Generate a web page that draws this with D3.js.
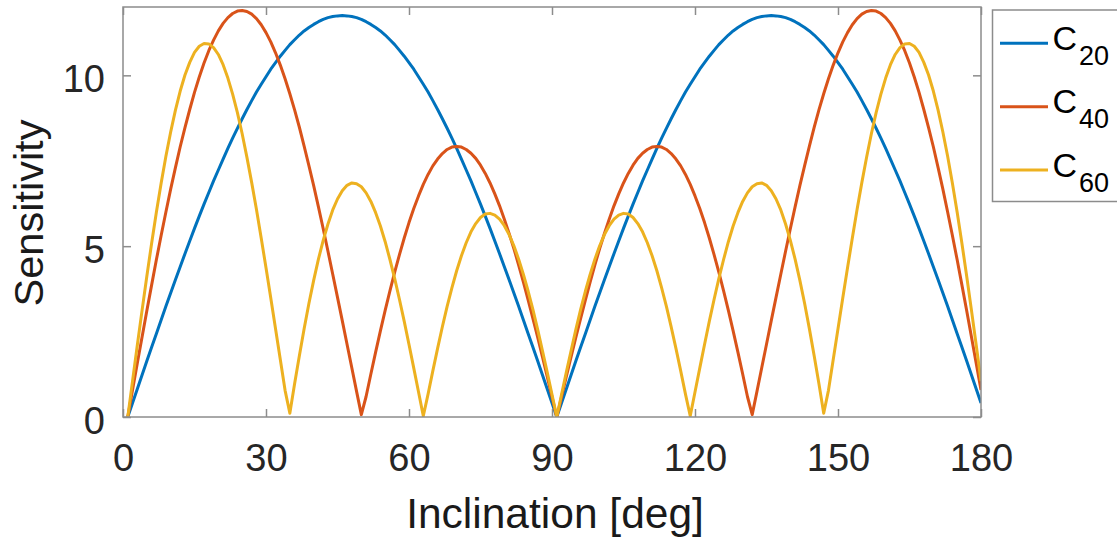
<!DOCTYPE html>
<html>
<head>
<meta charset="utf-8">
<script src="https://cdn.jsdelivr.net/npm/d3@7"></script>
<style>
  html, body { margin: 0; padding: 0; background: #fff; }
  svg { display: block; font-family: "Liberation Sans", Arial, Helvetica, sans-serif; }
</style>
</head>
<body>
<svg id="chart" width="1117" height="539"></svg>
<script>
// ---------------- data ----------------
const inclination = [
  1,2,3,4,5,6,7,8,9,10,11,12,13,14,15,16,17,18,19,20,
  21,22,23,24,25,26,27,28,29,30,31,32,33,34,35,36,37,38,39,40,
  41,42,43,44,45,46,47,48,49,50,51,52,53,54,55,56,57,58,59,60,
  61,62,63,64,65,66,67,68,69,70,71,72,73,74,75,76,77,78,79,80,
  81,82,83,84,85,86,87,88,89,90,91,92,93,94,95,96,97,98,99,100,
  101,102,103,104,105,106,107,108,109,110,111,112,113,114,115,116,117,118,119,120,
  121,122,123,124,125,126,127,128,129,130,131,132,133,134,135,136,137,138,139,140,
  141,142,143,144,145,146,147,148,149,150,151,152,153,154,155,156,157,158,159,160,
  161,162,163,164,165,166,167,168,169,170,171,172,173,174,175,176,177,178,179,180
];

const C20 = [
  0,0.41,0.82,1.23,1.64,2.04,2.44,2.84,3.24,3.63,4.02,4.40,4.78,5.15,5.52,5.88,6.23,6.57,6.91,7.23,
  7.55,7.86,8.16,8.45,8.73,9.00,9.26,9.51,9.74,9.96,10.18,10.37,10.56,10.73,10.90,11.04,11.18,11.30,11.40,11.49,
  11.57,11.64,11.69,11.72,11.74,11.75,11.74,11.72,11.69,11.64,11.57,11.49,11.40,11.30,11.18,11.04,10.90,10.73,10.56,10.37,
  10.18,9.96,9.74,9.51,9.26,9.00,8.73,8.45,8.16,7.86,7.55,7.23,6.91,6.57,6.23,5.88,5.52,5.15,4.78,4.40,
  4.02,3.63,3.24,2.84,2.44,2.04,1.64,1.23,0.82,0.41,
  0,0.41,0.82,1.23,1.64,2.04,2.44,2.84,3.24,3.63,4.02,4.40,4.78,5.15,5.52,5.88,6.23,6.57,6.91,7.23,
  7.55,7.86,8.16,8.45,8.73,9.00,9.26,9.51,9.74,9.96,10.18,10.37,10.56,10.73,10.90,11.04,11.18,11.30,11.40,11.49,
  11.57,11.64,11.69,11.72,11.74,11.75,11.74,11.72,11.69,11.64,11.57,11.49,11.40,11.30,11.18,11.04,10.90,10.73,10.56,10.37,
  10.18,9.96,9.74,9.51,9.26,9.00,8.73,8.45,8.16,7.86,7.55,7.23,6.91,6.57,6.23,5.88,5.52,5.15,4.78,4.40,
  4.02,3.63,3.24,2.84,2.44,2.04,1.64,1.23,0.82,0.41
];

const C40 = [
  0,0.79,1.57,2.34,3.11,3.86,4.60,5.31,6.00,6.67,7.30,7.91,8.47,9.00,9.50,9.95,10.36,10.72,11.03,11.30,
  11.52,11.69,11.81,11.88,11.90,11.87,11.79,11.66,11.48,11.25,10.98,10.66,10.30,9.90,9.46,8.99,8.48,7.93,7.36,6.77,
  6.15,5.51,4.85,4.18,3.50,2.82,2.13,1.44,0.75,0.07,0.60,1.26,1.90,2.52,3.12,3.69,4.24,4.75,5.24,5.69,
  6.10,6.47,6.81,7.10,7.35,7.55,7.71,7.83,7.90,7.92,7.90,7.83,7.72,7.57,7.37,7.13,6.85,6.53,6.18,5.79,
  5.37,4.93,4.45,3.95,3.42,2.88,2.33,1.76,1.18,0.59,0,
  0.59,1.18,1.76,2.33,2.88,3.42,3.95,4.45,4.93,5.37,5.79,6.18,6.53,6.85,7.13,7.37,7.57,7.72,7.83,7.90,
  7.92,7.90,7.83,7.71,7.55,7.35,7.10,6.81,6.47,6.10,5.69,5.24,4.75,4.24,3.69,3.12,2.52,1.90,1.26,0.60,
  0.07,0.75,1.44,2.13,2.82,3.50,4.18,4.85,5.51,6.15,6.77,7.36,7.93,8.48,8.99,9.46,9.90,10.30,10.66,10.98,
  11.25,11.48,11.66,11.79,11.87,11.90,11.88,11.81,11.69,11.52,11.30,11.03,10.72,10.36,9.95,9.50,9.00,8.47,7.91,7.30,
  6.67,6.00,5.31,4.60,3.86,3.11,2.34,1.57,0.79
];

const C60 = [
  0,1.05,2.10,3.12,4.12,5.08,5.99,6.84,7.63,8.34,8.98,9.54,10.01,10.38,10.67,10.85,10.93,10.92,10.81,10.61,
  10.31,9.92,9.45,8.91,8.29,7.60,6.86,6.07,5.23,4.37,3.48,2.58,1.68,0.78,0.11,0.97,1.79,2.58,3.32,4.00,
  4.62,5.17,5.65,6.06,6.38,6.62,6.78,6.85,6.83,6.74,6.56,6.31,5.98,5.59,5.13,4.61,4.05,3.44,2.80,2.12,
  1.43,0.73,0.03,0.67,1.35,2.01,2.64,3.24,3.78,4.28,4.72,5.10,5.42,5.66,5.84,5.94,5.96,5.91,5.79,5.60,
  5.34,5.01,4.62,4.17,3.68,3.14,2.56,1.94,1.31,0.66,0,
  0.66,1.31,1.94,2.56,3.14,3.68,4.17,4.62,5.01,5.34,5.60,5.79,5.91,5.96,5.94,5.84,5.66,5.42,5.10,4.72,
  4.28,3.78,3.24,2.64,2.01,1.35,0.67,0.03,0.73,1.43,2.12,2.80,3.44,4.05,4.61,5.13,5.59,5.98,6.31,6.56,
  6.74,6.83,6.85,6.78,6.62,6.38,6.06,5.65,5.17,4.62,4.00,3.32,2.58,1.79,0.97,0.11,0.78,1.68,2.58,3.48,
  4.37,5.23,6.07,6.86,7.60,8.29,8.91,9.45,9.92,10.31,10.61,10.81,10.92,10.93,10.85,10.67,10.38,10.01,9.54,8.98,
  8.34,7.63,6.84,5.99,5.08,4.12,3.12,2.10,1.05
];

const seriesNames = ["20", "40", "60"];
const seriesValues = [C20, C40, C60];
const seriesColors = ["#0072BD", "#D95319", "#EDB120"];

const xTicks = [0, 30, 60, 90, 120, 150, 180];
const yTicks = [0, 5, 10];
const xLabel = "Inclination [deg]";
const yLabel = "Sensitivity";

// ---------------- layout ----------------
const L = 123, R = 981, T = 7, B = 417;
const axisColor = "#8c8c8c";
const tickColor = "#262626";

const svg = d3.select("#chart");
const x = d3.scaleLinear().domain([0, 180]).range([L, R]);
const y = d3.scaleLinear().domain([0, 12]).range([B, T]);

svg.append("defs").append("clipPath").attr("id", "clip")
  .append("rect").attr("x", L).attr("y", T).attr("width", R - L).attr("height", B - T);

// lines
const line = d3.line()
  .x((d, i) => x(inclination[i]))
  .y(d => y(d));

const plot = svg.append("g").attr("clip-path", "url(#clip)");
seriesValues.forEach((vals, k) => {
  plot.append("path")
    .datum(vals)
    .attr("fill", "none")
    .attr("stroke", seriesColors[k])
    .attr("stroke-width", 3)
    .attr("stroke-linejoin", "round")
    .attr("d", line);
});

// axes
function styleAxis(g) {
  g.select(".domain").remove();
  g.selectAll(".tick line").attr("stroke", axisColor).attr("stroke-width", 1.5);
  g.selectAll(".tick text").attr("fill", tickColor).attr("font-size", 38)
    .attr("font-family", '"Liberation Sans", Arial, sans-serif');
}

svg.append("g").attr("transform", `translate(0,${B})`)
  .call(d3.axisBottom(x).tickValues(xTicks).tickSizeInner(-8).tickSizeOuter(0).tickPadding(27).tickFormat(d3.format("d")))
  .call(styleAxis);
svg.append("g").attr("transform", `translate(0,${T})`)
  .call(d3.axisTop(x).tickValues(xTicks).tickSizeInner(-8).tickSizeOuter(0).tickFormat(""))
  .call(styleAxis);
svg.append("g").attr("transform", `translate(${L},0)`)
  .call(d3.axisLeft(y).tickValues(yTicks).tickSizeInner(-8).tickSizeOuter(0).tickPadding(18).tickFormat(d3.format("d")))
  .call(styleAxis)
  .selectAll(".tick text").attr("dy", "0.68em").attr("y", -9.5);
svg.append("g").attr("transform", `translate(${R},0)`)
  .call(d3.axisRight(y).tickValues(yTicks).tickSizeInner(-8).tickSizeOuter(0).tickFormat(""))
  .call(styleAxis);

// box
svg.append("rect")
  .attr("x", L).attr("y", T).attr("width", R - L).attr("height", B - T)
  .attr("fill", "none").attr("stroke", axisColor).attr("stroke-width", 1.5);

// axis labels
svg.append("text")
  .attr("x", 555).attr("y", 528)
  .attr("text-anchor", "middle")
  .attr("font-size", 42.5).attr("fill", "#1a1a1a")
  .text(xLabel);

svg.append("text")
  .attr("transform", "translate(43,213) rotate(-90)")
  .attr("text-anchor", "middle")
  .attr("font-size", 41.5).attr("fill", "#1a1a1a")
  .text(yLabel);

// legend
const lg = svg.append("g");
lg.append("rect")
  .attr("x", 992.5).attr("y", 10).attr("width", 140).attr("height", 191.5)
  .attr("fill", "#fff").attr("stroke", axisColor).attr("stroke-width", 1.5);

seriesNames.forEach((name, k) => {
  const cy = 43.3 + k * 63.4;
  lg.append("line")
    .attr("x1", 1000).attr("x2", 1048).attr("y1", cy).attr("y2", cy)
    .attr("stroke", seriesColors[k]).attr("stroke-width", 3);
  const t = lg.append("text")
    .attr("x", 1052.5).attr("y", cy + 6.7)
    .attr("font-size", 34).attr("fill", "#000");
  t.append("tspan").text("C");
  t.append("tspan").attr("dx", 2).attr("dy", 15).attr("font-size", 27).text(name);
});
</script>
</body>
</html>
